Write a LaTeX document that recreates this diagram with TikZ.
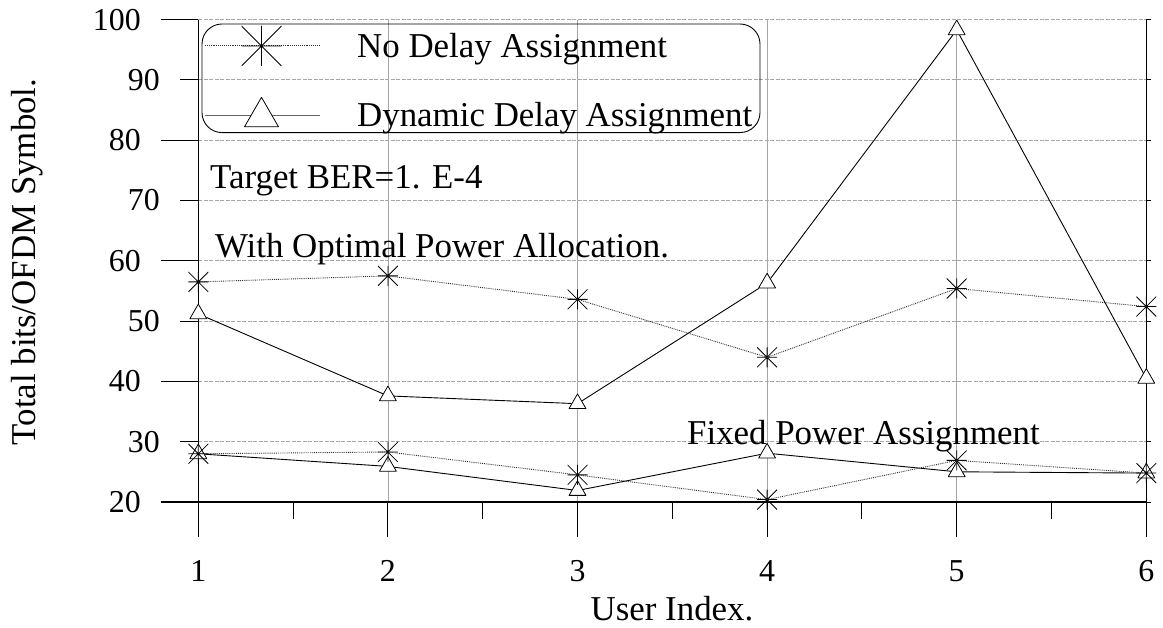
\documentclass[tikz,border=0pt]{standalone}
\usepackage{fontspec}
\setmainfont{Liberation Serif}
\usetikzlibrary{shapes.geometric}
\newcommand{\ticksize}{\fontsize{32}{38}\selectfont}
\newcommand{\labsize}{\fontsize{35}{42}\selectfont}

\begin{document}
\begin{tikzpicture}[line join=bevel,
  starmark/.style={rectangle,minimum size=20bp,inner sep=0pt,
    path picture={\draw[black,solid,line width=0.8bp]
      (path picture bounding box.north) -- (path picture bounding box.south)
      (path picture bounding box.west) -- (path picture bounding box.east)
      (path picture bounding box.north west) -- (path picture bounding box.south east)
      (path picture bounding box.north east) -- (path picture bounding box.south west);}},
  trimark/.style={regular polygon,regular polygon sides=3,minimum size=19.6bp,inner sep=0pt,
    draw=black,fill=white,line width=0.8bp},
  nodelay/.style={black!80,line width=0.9bp,densely dotted},
  dyndelay/.style={black,line width=0.9bp},
  gridline/.style={gray!70,line width=0.8bp,dash pattern=on 4bp off 1.5bp},
  vgrid/.style={gray!70,line width=0.8bp},
  axis/.style={black,line width=1.1bp},
  ticklab/.style={inner sep=0pt,font=\ticksize},
  txt/.style={inner sep=0pt,font=\labsize}]
%%
\useasboundingbox (0bp,0bp) rectangle (1163bp,628bp);
%% grid
\foreach \v [evaluate=\v as \y using 126+(\v-20)*6.03] in {30,40,...,100}
  \draw [gridline] (198.3bp,{\y*1bp}) -- (1146.3bp,{\y*1bp});
\foreach \i [evaluate=\i as \x using 198.3+(\i-1)*189.6] in {2,...,5}
  \draw [vgrid] ({\x*1bp},126bp) -- ({\x*1bp},608.4bp);
%% axes and ticks
\draw [axis] (198.3bp,91.3bp) -- (198.3bp,608.4bp);
\draw [axis] (1146.3bp,91.3bp) -- (1146.3bp,608.4bp);
\draw [axis] (161bp,126bp) -- (1146.3bp,126bp);
\foreach \v [evaluate=\v as \y using 126+(\v-20)*6.03] in {20,40,...,100} {
  \draw [axis] (161bp,{\y*1bp}) -- (198.3bp,{\y*1bp});
  \node (yl\v) at (141bp,{\y*1bp}) [ticklab,anchor=east] {\v};
}
\foreach \v [evaluate=\v as \y using 126+(\v-20)*6.03] in {30,50,...,90} {
  \draw [axis] (180bp,{\y*1bp}) -- (198.3bp,{\y*1bp});
  \node (yl\v) at (160bp,{\y*1bp}) [ticklab,anchor=east] {\v};
}
\foreach \v [evaluate=\v as \y using 126+(\v-20)*6.03] in {20,30,...,100}
  \draw [axis,line width=0.8bp] (1146.3bp,{\y*1bp}) -- (1150.5bp,{\y*1bp});
\foreach \i [evaluate=\i as \x using 198.3+(\i-1)*189.6] in {1,...,6} {
  \draw [axis] ({\x*1bp},126bp) -- ({\x*1bp},91.3bp);
  \node (xl\i) at ({\x*1bp},46bp) [ticklab,anchor=base] {\i};
}
\foreach \i [evaluate=\i as \x using 198.3+(\i-0.5)*189.6] in {1,...,5}
  \draw [axis] ({\x*1bp},126bp) -- ({\x*1bp},109bp);
\node (ylab) at (27.5bp,366bp) [txt,rotate=90] {Total bits/OFDM Symbol.};
\node (xlab) at (672bp,8bp) [txt,anchor=base] {User Index.};
%% texts
\node (ber) at (210bp,439bp) [txt,anchor=base west] {Target BER=1. E-4};
\node (optimal) at (215bp,370bp) [txt,anchor=base west] {With Optimal Power Allocation.};
\node (fixed) at (687bp,183bp) [txt,anchor=base west] {Fixed Power Assignment};
%% legend
\node (legend) at (481bp,549.7bp) [draw=black,line width=0.9bp,rounded corners=20bp,minimum width=558bp,minimum height=108.6bp] {};
\coordinate (leg_nd_a) at (205bp,583bp);
\coordinate (leg_nd_b) at (320bp,583bp);
\coordinate (leg_dd_a) at (205bp,512.5bp);
\coordinate (leg_dd_b) at (320bp,512.5bp);
\draw [nodelay] (leg_nd_a) -- (leg_nd_b);
\draw [black!60,line width=1bp] (leg_dd_a) -- (leg_dd_b);
\node (leg_nd) at (261.5bp,582bp) [starmark,minimum size=40bp] {};
\node (leg_dd) at (261.5bp,511bp) [trimark,minimum size=39.3bp] {};
\node (leg_nd_txt) at (357bp,570.6bp) [txt,anchor=base west] {No Delay Assignment};
\node (leg_dd_txt) at (357bp,501.3bp) [txt,anchor=base west] {Dynamic Delay Assignment};
%% dynamic delay, optimal power
\node (dd1) at (198.3bp,314.1bp) [trimark] {};
\node (dd2) at (387.9bp,232.1bp) [trimark] {};
\node (dd3) at (577.5bp,224.3bp) [trimark] {};
\node (dd4) at (767.1bp,344.9bp) [trimark] {};
\node (dd5) at (956.7bp,598.1bp) [trimark] {};
\node (dd6) at (1146.3bp,249.6bp) [trimark] {};
%% dynamic delay, fixed power
\node (df1) at (198.3bp,174.2bp) [trimark] {};
\node (df2) at (387.9bp,161.6bp) [trimark] {};
\node (df3) at (577.5bp,137.5bp) [trimark] {};
\node (df4) at (767.1bp,174.8bp) [trimark] {};
\node (df5) at (956.7bp,156.2bp) [trimark] {};
\node (df6) at (1146.3bp,154.9bp) [trimark] {};
%% no delay, optimal power
\node (nd1) at (198.3bp,346.1bp) [starmark] {};
\node (nd2) at (387.9bp,352.1bp) [starmark] {};
\node (nd3) at (577.5bp,328.6bp) [starmark] {};
\node (nd4) at (767.1bp,270.7bp) [starmark] {};
\node (nd5) at (956.7bp,339.5bp) [starmark] {};
\node (nd6) at (1146.3bp,321.4bp) [starmark] {};
%% no delay, fixed power
\node (nf1) at (198.3bp,174.2bp) [starmark] {};
\node (nf2) at (387.9bp,176.0bp) [starmark] {};
\node (nf3) at (577.5bp,153.1bp) [starmark] {};
\node (nf4) at (767.1bp,128.4bp) [starmark] {};
\node (nf5) at (956.7bp,167.6bp) [starmark] {};
\node (nf6) at (1146.3bp,154.9bp) [starmark] {};
%% curves
\draw [dyndelay] (dd1) -- (dd2);
\draw [dyndelay] (dd2) -- (dd3);
\draw [dyndelay] (dd3) -- (dd4);
\draw [dyndelay] (dd4) -- (dd5);
\draw [dyndelay] (dd5) -- (dd6);
\draw [dyndelay] (df1) -- (df2);
\draw [dyndelay] (df2) -- (df3);
\draw [dyndelay] (df3) -- (df4);
\draw [dyndelay] (df4) -- (df5);
\draw [dyndelay] (df5) -- (df6);
\draw [nodelay] (nd1.center) -- (nd2.center);
\draw [nodelay] (nd2.center) -- (nd3.center);
\draw [nodelay] (nd3.center) -- (nd4.center);
\draw [nodelay] (nd4.center) -- (nd5.center);
\draw [nodelay] (nd5.center) -- (nd6.center);
\draw [nodelay] (nf1.center) -- (nf2.center);
\draw [nodelay] (nf2.center) -- (nf3.center);
\draw [nodelay] (nf3.center) -- (nf4.center);
\draw [nodelay] (nf4.center) -- (nf5.center);
\draw [nodelay] (nf5.center) -- (nf6.center);
%
\end{tikzpicture}
\end{document}
